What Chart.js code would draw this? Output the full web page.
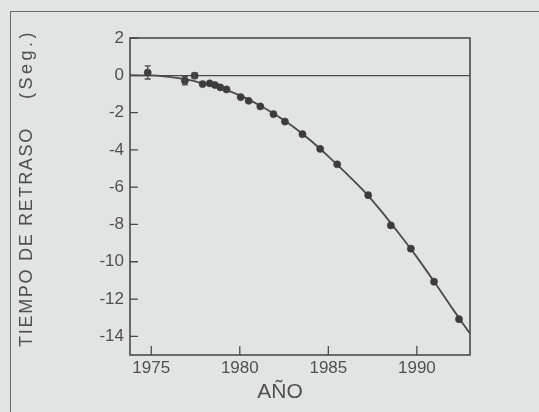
<!DOCTYPE html>
<html>
<head>
<meta charset="utf-8">
<script src="https://cdn.jsdelivr.net/npm/chart.js@4"></script>
<style>
  html, body { margin: 0; padding: 0; background: #e2e4e3; overflow: hidden; }
  #wrap { position: relative; width: 539px; height: 412px; }
  #frame { position: absolute; left: 10px; top: 11px; width: 600px; height: 500px;
           border: 1.5px solid #6a6a6a; box-sizing: border-box; }
  canvas { position: absolute; left: 0; top: 0; }
</style>
</head>
<body>
<div id="wrap">
  <div id="frame"></div>
  <canvas id="chart" width="539" height="412"></canvas>
</div>
<script>
const obsYears = [1974.8, 1976.9, 1977.45, 1977.9, 1978.3, 1978.6, 1978.9, 1979.25, 1980.05, 1980.5,
  1981.16, 1981.9, 1982.55, 1983.54, 1984.54, 1985.5, 1987.25, 1988.53, 1989.66, 1990.97, 1992.38];
const obsDelay = [0.15, -0.29, -0.02, -0.47, -0.43, -0.52, -0.65, -0.76, -1.17, -1.37,
  -1.67, -2.08, -2.48, -3.16, -3.95, -4.77, -6.43, -8.05, -9.3, -11.07, -13.08];
const obsError = [0.35, 0.22, 0.15, 0, 0, 0, 0, 0, 0, 0, 0, 0, 0, 0, 0, 0, 0, 0, 0, 0, 0];

// theoretical curve, read at whole years
const curveYears = [1973.8, 1975, 1976, 1977, 1978, 1979, 1980, 1981, 1982, 1983, 1984,
  1985, 1986, 1987, 1988, 1989, 1990, 1991, 1992, 1993];
const curveDelay = [0.0, 0.0, -0.08, -0.22, -0.45, -0.72, -1.08, -1.55, -2.1, -2.75, -3.5,
  -4.35, -5.25, -6.2, -7.3, -8.5, -9.75, -11.1, -12.5, -13.85];

const xTicks = [1975, 1980, 1985, 1990];
const yTicks = [2, 0, -2, -4, -6, -8, -10, -12, -14];

const ink = "#4a4a4a";
const textCol = "#505050";
const fontFam = "'Liberation Sans', Arial, Helvetica, sans-serif";

// inward ticks, box, error bars and axis titles
const extras = {
  id: "extras",
  afterDatasetsDraw(chart) {
    const ctx = chart.ctx;
    const xs = chart.scales.x, ys = chart.scales.y;
    const a = chart.chartArea;
    ctx.save();
    ctx.strokeStyle = ink;
    ctx.lineWidth = 1.3;
    obsYears.forEach((yr, i) => {
      const e = obsError[i];
      if (!e) return;
      const px = xs.getPixelForValue(yr);
      const top = ys.getPixelForValue(obsDelay[i] + e);
      const bot = ys.getPixelForValue(obsDelay[i] - e);
      ctx.beginPath();
      ctx.moveTo(px, top); ctx.lineTo(px, bot);
      ctx.moveTo(px - 3, top); ctx.lineTo(px + 3, top);
      ctx.moveTo(px - 3, bot); ctx.lineTo(px + 3, bot);
      ctx.stroke();
    });
    ctx.restore();
  },
  afterDraw(chart) {
    const ctx = chart.ctx;
    const xs = chart.scales.x, ys = chart.scales.y;
    const a = chart.chartArea;
    ctx.save();
    ctx.strokeStyle = ink;
    ctx.lineWidth = 1.6;
    ctx.strokeRect(a.left, a.top, a.right - a.left, a.bottom - a.top);
    ctx.lineWidth = 1.3;
    ctx.beginPath();
    yTicks.forEach(v => {
      const py = ys.getPixelForValue(v);
      ctx.moveTo(a.left, py); ctx.lineTo(a.left + 8, py);
    });
    xTicks.forEach(v => {
      const px = xs.getPixelForValue(v);
      ctx.moveTo(px, a.bottom); ctx.lineTo(px, a.bottom - 9);
    });
    ctx.stroke();

    // axis titles
    ctx.fillStyle = textCol;
    ctx.textBaseline = "middle";
    ctx.textAlign = "center";
    ctx.font = "21px " + fontFam;
    ctx.fillText("AÑO", 280, 392);

    ctx.translate(27, 0);
    ctx.rotate(-Math.PI / 2);
    ctx.font = "18px " + fontFam;
    ctx.letterSpacing = "1.7px";
    ctx.fillText("TIEMPO DE RETRASO", -237, 0);
    ctx.letterSpacing = "3.5px";
    ctx.fillText("(Seg.)", -64, 0);
    ctx.restore();
  }
};

new Chart(document.getElementById("chart"), {
  type: "scatter",
  data: {
    datasets: [
      {
        label: "curva",
        data: curveYears.map((x, i) => ({ x: x, y: curveDelay[i] })),
        showLine: true,
        borderColor: ink,
        borderWidth: 1.8,
        pointRadius: 0,
        cubicInterpolationMode: "monotone",
        order: 2
      },
      {
        label: "observado",
        data: obsYears.map((x, i) => ({ x: x, y: obsDelay[i] })),
        pointRadius: 3.6,
        pointStyle: "circle",
        backgroundColor: "#3c3c3c",
        borderColor: "#3c3c3c",
        borderWidth: 0.5,
        order: 1
      }
    ]
  },
  options: {
    responsive: false,
    animation: false,
    layout: { padding: { left: 0, top: 38, right: 69, bottom: 0 } },
    plugins: { legend: { display: false }, tooltip: { enabled: false } },
    scales: {
      x: {
        type: "linear",
        min: 1973.8,
        max: 1993,
        afterBuildTicks: s => { s.ticks = xTicks.map(v => ({ value: v })); },
        afterFit: s => { s.height = 57; },
        grid: { drawOnChartArea: false, drawTicks: false },
        border: { display: false },
        ticks: {
          padding: 3,
          color: textCol,
          font: { family: fontFam, size: 17 },
          callback: v => String(v),
          maxRotation: 0
        }
      },
      y: {
        min: -15,
        max: 2,
        afterBuildTicks: s => { s.ticks = yTicks.map(v => ({ value: v })); },
        afterFit: s => { s.width = 130; },
        grid: {
          drawTicks: false,
          color: c => (c.tick && c.tick.value === 0 ? ink : "rgba(0,0,0,0)"),
          lineWidth: 1.3
        },
        border: { display: false },
        ticks: {
          padding: 6,
          color: textCol,
          font: { family: fontFam, size: 17 },
          callback: v => String(v)
        }
      }
    }
  },
  plugins: [extras]
});
</script>
</body>
</html>
